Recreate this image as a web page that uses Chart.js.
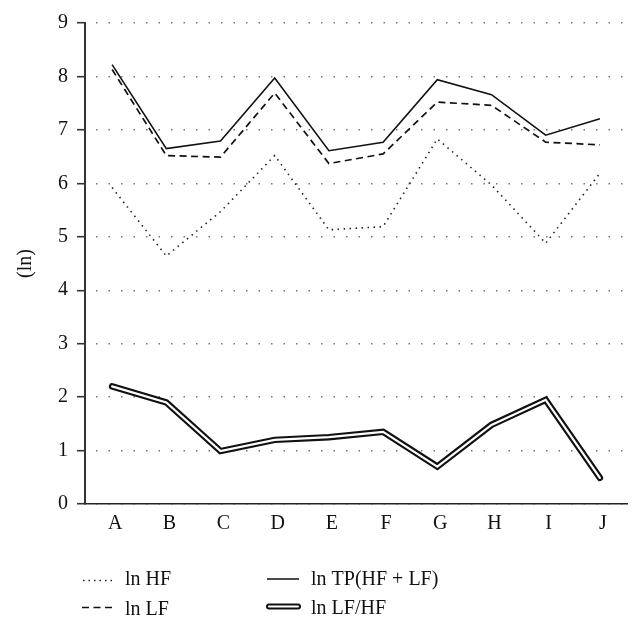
<!DOCTYPE html>
<html>
<head>
<meta charset="utf-8">
<script src="https://cdn.jsdelivr.net/npm/chart.js@4.4.1/dist/chart.umd.min.js"></script>
<style>
  html, body { margin: 0; padding: 0; background: #fff; }
  #wrap { width: 641px; height: 629px; position: relative; }
</style>
</head>
<body>
<div id="wrap"><canvas id="c" width="641" height="629"></canvas></div>
<script>
const categories = ['A', 'B', 'C', 'D', 'E', 'F', 'G', 'H', 'I', 'J'];
const lnHF   = [5.92, 4.64, 5.47, 6.52, 5.13, 5.19, 6.83, 5.97, 4.88, 6.19];
const lnLF   = [8.13, 6.52, 6.49, 7.69, 6.37, 6.55, 7.52, 7.46, 6.77, 6.72];
const lnTP   = [8.22, 6.65, 6.79, 7.97, 6.61, 6.77, 7.94, 7.66, 6.90, 7.21];
const lnLFHF = [2.20, 1.90, 0.99, 1.20, 1.25, 1.35, 0.70, 1.48, 1.95, 0.49];
const yTicks = [0, 1, 2, 3, 4, 5, 6, 7, 8, 9];
const legendLabels = ['ln HF', 'ln LF', 'ln TP(HF + LF)', 'ln LF/HF'];

const FONT = '"Liberation Serif", "DejaVu Serif", serif';

const legendPlugin = {
  id: 'customLegend',
  afterDraw(chart) {
    const ctx = chart.ctx;
    ctx.save();
    // samples
    const line = (x1, x2, y, w, color, dash, cap) => {
      ctx.beginPath();
      ctx.lineWidth = w;
      ctx.strokeStyle = color;
      ctx.setLineDash(dash || []);
      ctx.lineCap = cap || 'butt';
      ctx.moveTo(x1, y);
      ctx.lineTo(x2, y);
      ctx.stroke();
    };
    line(83, 113, 580.5, 1.5, '#222', [1.5, 4]);
    line(82, 113, 607.5, 1.7, '#111', [7, 4.5]);
    line(267, 299, 579, 1.5, '#111');
    line(269, 298, 606.5, 6, '#111', [], 'round');
    line(269, 298, 606.5, 2, '#fff', [], 'round');
    ctx.setLineDash([]);
    ctx.fillStyle = '#111';
    ctx.font = '20px ' + FONT;
    ctx.textBaseline = 'alphabetic';
    ctx.textAlign = 'left';
    ctx.fillText(legendLabels[0], 125, 585);
    ctx.fillText(legendLabels[1], 125, 615);
    ctx.fillText(legendLabels[2], 311, 585);
    ctx.fillText(legendLabels[3], 311, 614);
    ctx.restore();
  }
};

new Chart(document.getElementById('c'), {
  type: 'line',
  data: {
    labels: categories,
    datasets: [
      { label: legendLabels[3] + ' inner', data: lnLFHF, borderColor: '#fff', borderWidth: 2.2,
        borderCapStyle: 'round', borderJoinStyle: 'miter', order: 0 },
      { label: legendLabels[3], data: lnLFHF, borderColor: '#111', borderWidth: 6.5,
        borderCapStyle: 'round', borderJoinStyle: 'miter', order: 1 },
      { label: legendLabels[2], data: lnTP, borderColor: '#111', borderWidth: 1.6, order: 2 },
      { label: legendLabels[1], data: lnLF, borderColor: '#111', borderWidth: 1.7, borderDash: [7, 4.5], order: 3 },
      { label: legendLabels[0], data: lnHF, borderColor: '#222', borderWidth: 1.6, borderDash: [1.5, 4.5], order: 4 }
    ]
  },
  options: {
    responsive: false,
    animation: false,
    devicePixelRatio: 1,
    layout: { padding: { left: 0, right: 14, top: 23, bottom: 0 } },
    elements: { point: { radius: 0, hoverRadius: 0 }, line: { tension: 0, fill: false } },
    plugins: { legend: { display: false }, tooltip: { enabled: false } },
    scales: {
      x: {
        type: 'category',
        offset: true,
        grid: { display: false, drawTicks: false },
        border: { display: true, color: '#222', width: 1.6 },
        ticks: { color: '#111', font: { family: FONT, size: 20 }, padding: 8, labelOffset: 3, maxRotation: 0, autoSkip: false },
        afterFit(s) { s.height = 125; }
      },
      y: {
        min: 0, max: 9,
        afterBuildTicks(s) { s.ticks = yTicks.map(v => ({ value: v })); },
        grid: { color: '#777', lineWidth: 1.4, drawTicks: true, tickLength: 8, tickColor: '#333', tickWidth: 1.6 },
        border: { display: true, color: '#333', width: 2, dash: [1.5, 11], dashOffset: -10 },
        ticks: { color: '#111', font: { family: FONT, size: 20 }, padding: 9 },
        title: { display: true, text: '(ln)', color: '#111', font: { family: FONT, size: 20 }, padding: { top: 14, bottom: 0 } },
        afterFit(s) { s.width = 85; }
      }
    }
  },
  plugins: [legendPlugin]
});
</script>
</body>
</html>
